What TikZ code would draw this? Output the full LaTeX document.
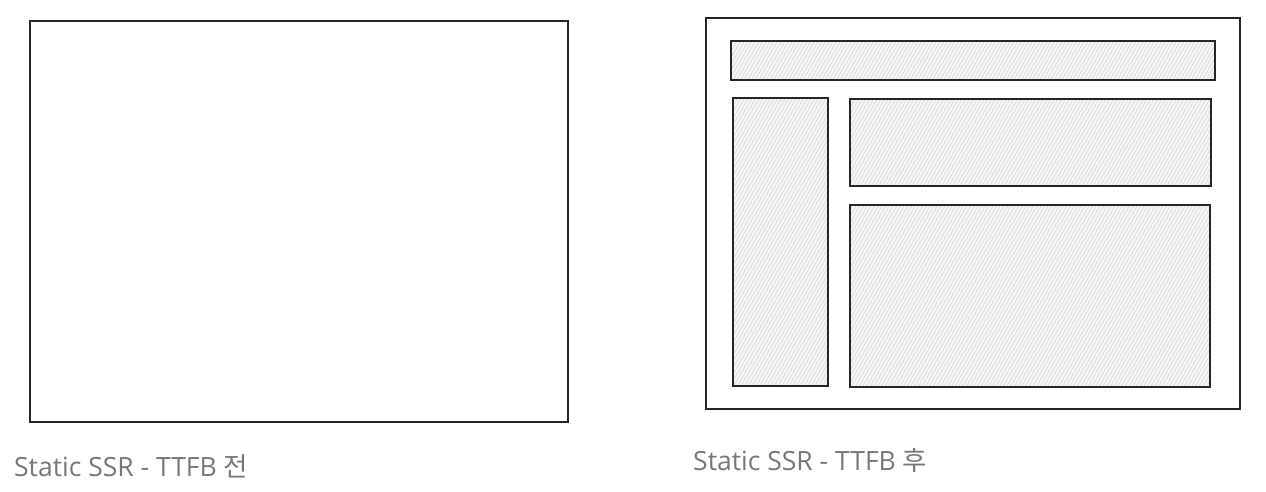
\documentclass[tikz,border=0pt]{standalone}
\usepackage{fontspec}
\setmainfont{Open Sans}
\newfontfamily\krfont{Noto Sans CJK KR}
\usetikzlibrary{patterns.meta}
\definecolor{inkline}{HTML}{262626}
\definecolor{captiongray}{HTML}{787878}

\begin{document}
\begin{tikzpicture}[
  x=1pt, y=-1pt,
  framebox/.style={draw=inkline, line width=1.3pt},
  hatchbox/.style={draw=inkline, line width=1.3pt, preaction={fill=gray!7},
    pattern={Lines[angle=60, distance=3.2pt, line width=0.5pt]}, pattern color=gray!38},
  caption/.style={font=\fontsize{26.5}{31}\selectfont, text=captiongray, anchor=west, inner sep=0pt}
]
\useasboundingbox (0,0) rectangle (1266,492);

% Before TTFB: empty page
\draw[framebox] (30,21) rectangle (568,422);
\node[caption] (capbefore) at (14,466) {Static SSR - TTFB {\krfont 전}};

% After TTFB: page with layout
\draw[framebox] (706,18) rectangle (1240,409);
\draw[hatchbox] (731,41) rectangle (1215,80);
\draw[hatchbox] (733,98) rectangle (828,386);
\draw[hatchbox] (850,99) rectangle (1211,186);
\draw[hatchbox] (850,205) rectangle (1210,387);
\node[caption] (capafter) at (693,461) {Static SSR - TTFB {\krfont 후}};
\end{tikzpicture}
\end{document}
